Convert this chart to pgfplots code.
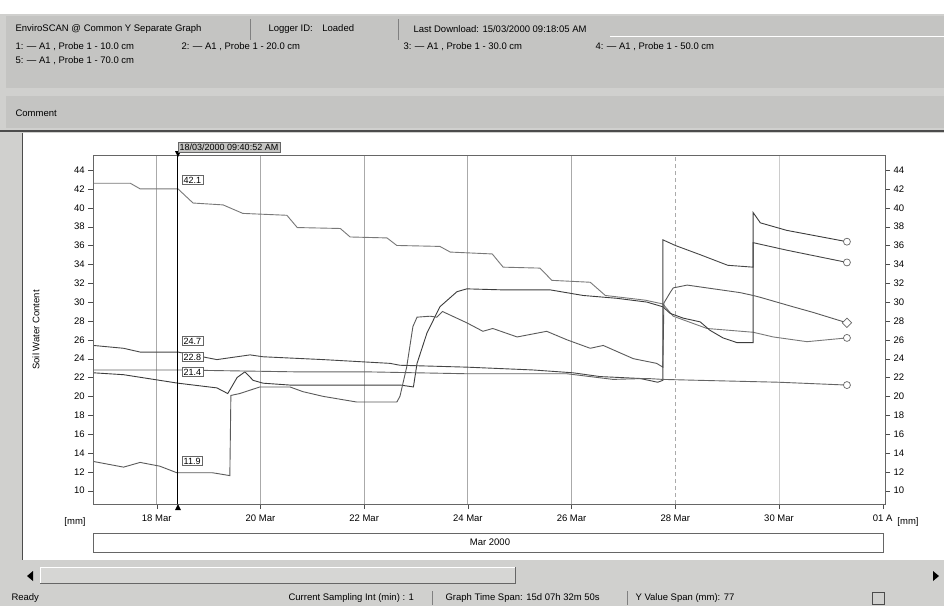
\documentclass[border=0pt]{standalone}
\usepackage{fontspec}
\setmainfont{Liberation Sans}
\usepackage{pgfplots}
\usetikzlibrary{plotmarks}
\pgfplotsset{compat=1.18}
\definecolor{wgray}{RGB}{208,208,206}
\definecolor{hgray}{RGB}{196,196,194}
\definecolor{gridc}{RGB}{170,170,170}
\definecolor{cA}{RGB}{120,120,120}
\definecolor{cB}{RGB}{60,60,60}
\definecolor{cC}{RGB}{90,90,90}
\definecolor{cD}{RGB}{70,70,70}
\definecolor{cE}{RGB}{100,100,100}
\begin{document}
\begin{tikzpicture}[x=1pt,y=1pt,font=\fontsize{9.5}{11}\selectfont]
\useasboundingbox (0,0) rectangle (944,-606);
\fill[white] (0,0) rectangle (944,-606);
\fill[wgray] (0,-14) rectangle (944,-606);
\fill[hgray] (6,-16) rectangle (944,-88);
\fill[hgray] (6,-96) rectangle (944,-128);
% header texts
\node[anchor=west] at (12,-29) {EnviroSCAN @ Common Y Separate Graph};
\draw[gray] (250,-19) -- (250,-40);
\node[anchor=west] at (265,-29) {Logger ID:\quad Loaded};
\draw[gray] (398,-19) -- (398,-40);
\node[anchor=west] at (410,-29) {Last Download: 15/03/2000 09:18:05 AM};
\draw[white,line width=1pt] (610,-36) -- (944,-36);
\node[anchor=west] at (12,-47) {1: --- A1 , Probe 1 - 10.0 cm};
\node[anchor=west] at (178,-47) {2: --- A1 , Probe 1 - 20.0 cm};
\node[anchor=west] at (400,-47) {3: --- A1 , Probe 1 - 30.0 cm};
\node[anchor=west] at (592,-47) {4: --- A1 , Probe 1 - 50.0 cm};
\node[anchor=west] at (12,-61) {5: --- A1 , Probe 1 - 70.0 cm};
\node[anchor=west] at (12,-113) {Comment};
\draw[black!70,line width=1.2pt] (0,-131) -- (944,-131);
% chart panel
\fill[white] (22,-133) rectangle (944,-560);
\draw[black!70] (22,-133) -- (22,-560);
% y label
\node[rotate=90] at (36,-330) {Soil Water Content};
\begin{axis}[at={(93.3pt,-504pt)}, anchor=south west, scale only axis,
  width=791.7pt, height=349pt,
  xmin=16.777, xmax=32.044, ymin=8.59, ymax=45.59,
  xtick={18,20,22,24,26,28,30,32},
  xticklabels={18 Mar,20 Mar,22 Mar,24 Mar,26 Mar,28 Mar,30 Mar,01 A},
  ytick={10,12,...,44},
  tick align=outside, major tick length=5pt,
  xtick pos=bottom, ytick pos=left,
  axis line style={black!60, line width=0.8pt},
  tick style={black!70},
  ticklabel style={font=\fontsize{9.5}{11}\selectfont},
  xticklabel style={yshift=-2pt},
  /pgf/number format/assume math mode=true,
  clip=false,
]
% grid lines
\draw[gridc, line width=0.8pt] (axis cs:18,8.59) -- (axis cs:18,45.59);
\draw[gridc, line width=0.8pt] (axis cs:20,8.59) -- (axis cs:20,45.59);
\draw[gridc, line width=0.8pt] (axis cs:22,8.59) -- (axis cs:22,45.59);
\draw[gridc, line width=0.8pt] (axis cs:24,8.59) -- (axis cs:24,45.59);
\draw[gridc, line width=0.8pt] (axis cs:26,8.59) -- (axis cs:26,45.59);
\draw[gridc, line width=0.8pt, dash pattern=on 4pt off 3pt] (axis cs:28,8.59) -- (axis cs:28,45.59);
\draw[gridc!60, line width=0.8pt] (axis cs:30,8.59) -- (axis cs:30,45.59);
% S1
\addplot[cA, line width=0.9pt, mark=none] coordinates {(16.78,42.6) (17.49,42.6) (17.68,42.0) (18.41,42.0) (18.70,40.5) (19.28,40.3) (19.66,39.4) (20.51,39.2) (20.71,37.9) (21.54,37.8) (21.73,36.9) (22.44,36.8) (22.63,36.0) (23.46,35.9) (23.66,35.3) (24.47,35.1) (24.68,33.7) (25.39,33.6) (25.62,32.3) (26.36,32.1) (26.65,30.7) (27.42,30.2) (27.76,29.8) (27.96,28.5) (28.61,27.2) (29.50,26.8) (29.89,26.3) (30.54,25.8) (31.31,26.2)};
% S4
\addplot[cB, line width=0.9pt, mark=none] coordinates {(16.78,22.5) (17.36,22.3) (18.41,21.4) (19.16,20.9) (19.37,20.3) (19.55,22.0) (19.70,22.6) (19.86,21.7) (20.05,21.4) (20.57,21.2) (22.06,21.2) (22.70,21.2) (22.95,21.0) (23.02,23.5) (23.21,26.7) (23.46,29.5) (23.79,31.1) (23.98,31.4) (24.62,31.3) (25.58,31.3) (26.22,30.7) (26.87,30.4) (27.45,30.0) (27.76,29.5) (27.90,28.8) (28.15,28.3) (28.48,27.9) (28.67,27.0) (28.92,26.2) (29.19,25.7) (29.50,25.7) (29.50,39.5) (29.64,38.4) (30.15,37.6) (31.31,36.4)};
% S5
\addplot[cC, line width=0.9pt, mark=none] coordinates {(16.78,13.1) (17.36,12.5) (17.68,13.0) (18.06,12.6) (18.39,11.9) (19.08,11.9) (19.41,11.6) (19.43,20.1) (19.60,20.3) (19.99,21.0) (20.57,21.0) (20.82,20.5) (21.21,20.0) (21.86,19.4) (22.63,19.4) (22.69,20.0) (22.82,23.1) (22.94,27.4) (23.02,28.4) (23.27,28.5) (23.40,28.4) (23.51,29.0) (23.98,27.8) (24.29,26.9) (24.48,27.2) (24.95,26.3) (25.52,26.9) (25.91,26.0) (26.36,25.1) (26.61,25.4) (27.19,24.0) (27.64,23.5) (27.76,23.1) (27.78,29.9) (27.90,31.0) (27.96,31.5) (28.23,31.8) (29.25,31.0) (29.50,30.7) (29.64,30.5) (30.27,29.5) (30.66,28.9) (31.31,27.8)};
% S2
\addplot[cD, line width=0.9pt, mark=none] coordinates {(16.78,25.4) (17.36,25.1) (17.68,24.7) (18.41,24.7) (19.16,23.9) (19.80,24.4) (20.05,24.2) (21.21,23.9) (22.50,23.5) (22.69,23.3) (23.98,23.1) (25.26,22.8) (26.03,22.5) (26.55,22.1) (27.32,21.9) (27.66,21.5) (27.76,21.7) (27.76,36.6) (28.00,36.0) (28.49,35.0) (29.01,33.9) (29.50,33.7) (29.50,36.3) (30.15,35.5) (31.31,34.2)};
% S3
\addplot[cE, line width=0.9pt, mark=none] coordinates {(16.78,22.8) (18.41,22.8) (20.71,22.6) (22.06,22.6) (23.98,22.4) (25.91,22.4) (26.80,21.8) (27.45,21.9) (27.76,21.8) (28.48,21.7) (30.0,21.5) (31.31,21.2)};
% end markers
\addplot[only marks, mark=*, mark size=3.5pt, mark options={fill=white, draw=black!60, line width=0.7pt}] coordinates {(31.31,36.4) (31.31,34.2) (31.31,26.2) (31.31,21.2)};
\addplot[only marks, mark=square*, mark size=3.3pt, mark options={rotate=45, fill=white, draw=black!60, line width=0.7pt}] coordinates {(31.31,27.8)};
% cursor
\draw[black, line width=1pt] (axis cs:18.41,8.59) -- (axis cs:18.41,45.59);
\end{axis}
\begin{axis}[at={(93.3pt,-504pt)}, anchor=south west, scale only axis,
  width=791.7pt, height=349pt,
  xmin=16.777, xmax=32.044, ymin=8.59, ymax=45.59,
  ytick={10,12,...,44}, xtick=\empty,
  tick align=outside, major tick length=5pt,
  ytick pos=right, yticklabel pos=right,
  axis line style={black!60, line width=0.8pt},
  tick style={black!70},
  ticklabel style={font=\fontsize{9.5}{11}\selectfont},
  /pgf/number format/assume math mode=true,
]
\end{axis}
% cursor decorations
\fill[black] (175,-151) -- (181,-151) -- (178,-157) -- cycle;
\fill[black] (175,-510) -- (181,-510) -- (178,-504) -- cycle;
\node[draw=black!60, fill=hgray, anchor=south west, inner sep=1.5pt, font=\fontsize{9}{10}\selectfont] at (178,-152) {18/03/2000 09:40:52 AM};
\begin{scope}[every node/.style={draw=black!60, fill=white, inner sep=1.5pt, anchor=west, font=\fontsize{9}{10}\selectfont}]
\node at (182,-180) {42.1};
\node at (182,-341) {24.7};
\node at (182,-357) {22.8};
\node at (182,-372) {21.4};
\node at (182,-461) {11.9};
\end{scope}
% units
\node at (75,-522) {[mm]};
\node[fill=white] at (908,-522) {[mm]};
% month bar
\draw[black!60] (93,-533) rectangle (883,-552);
\node at (490,-542) {Mar 2000};
% scrollbar
\fill[wgray] (22,-565) rectangle (944,-585);
\fill[hgray!70] (40,-567) rectangle (515,-583);
\draw[black!60] (40,-583) -- (515,-583) -- (515,-567);
\draw[white] (40,-583) -- (40,-567) -- (515,-567);
\fill[black] (33,-571) -- (33,-581) -- (27,-576) -- cycle;
\fill[black] (933,-571) -- (933,-581) -- (939,-576) -- cycle;
% status bar
\node[anchor=west] at (8,-598) {Ready};
\node[anchor=west] at (285,-598) {Current Sampling Int (min) : 1};
\draw[gray] (432,-591) -- (432,-605);
\node[anchor=west] at (442,-598) {Graph Time Span: 15d 07h 32m 50s};
\draw[gray] (627,-591) -- (627,-605);
\node[anchor=west] at (632,-598) {Y Value Span (mm): 77};
\draw[black!70] (872,-592) rectangle (884,-604);
\end{tikzpicture}
\end{document}
